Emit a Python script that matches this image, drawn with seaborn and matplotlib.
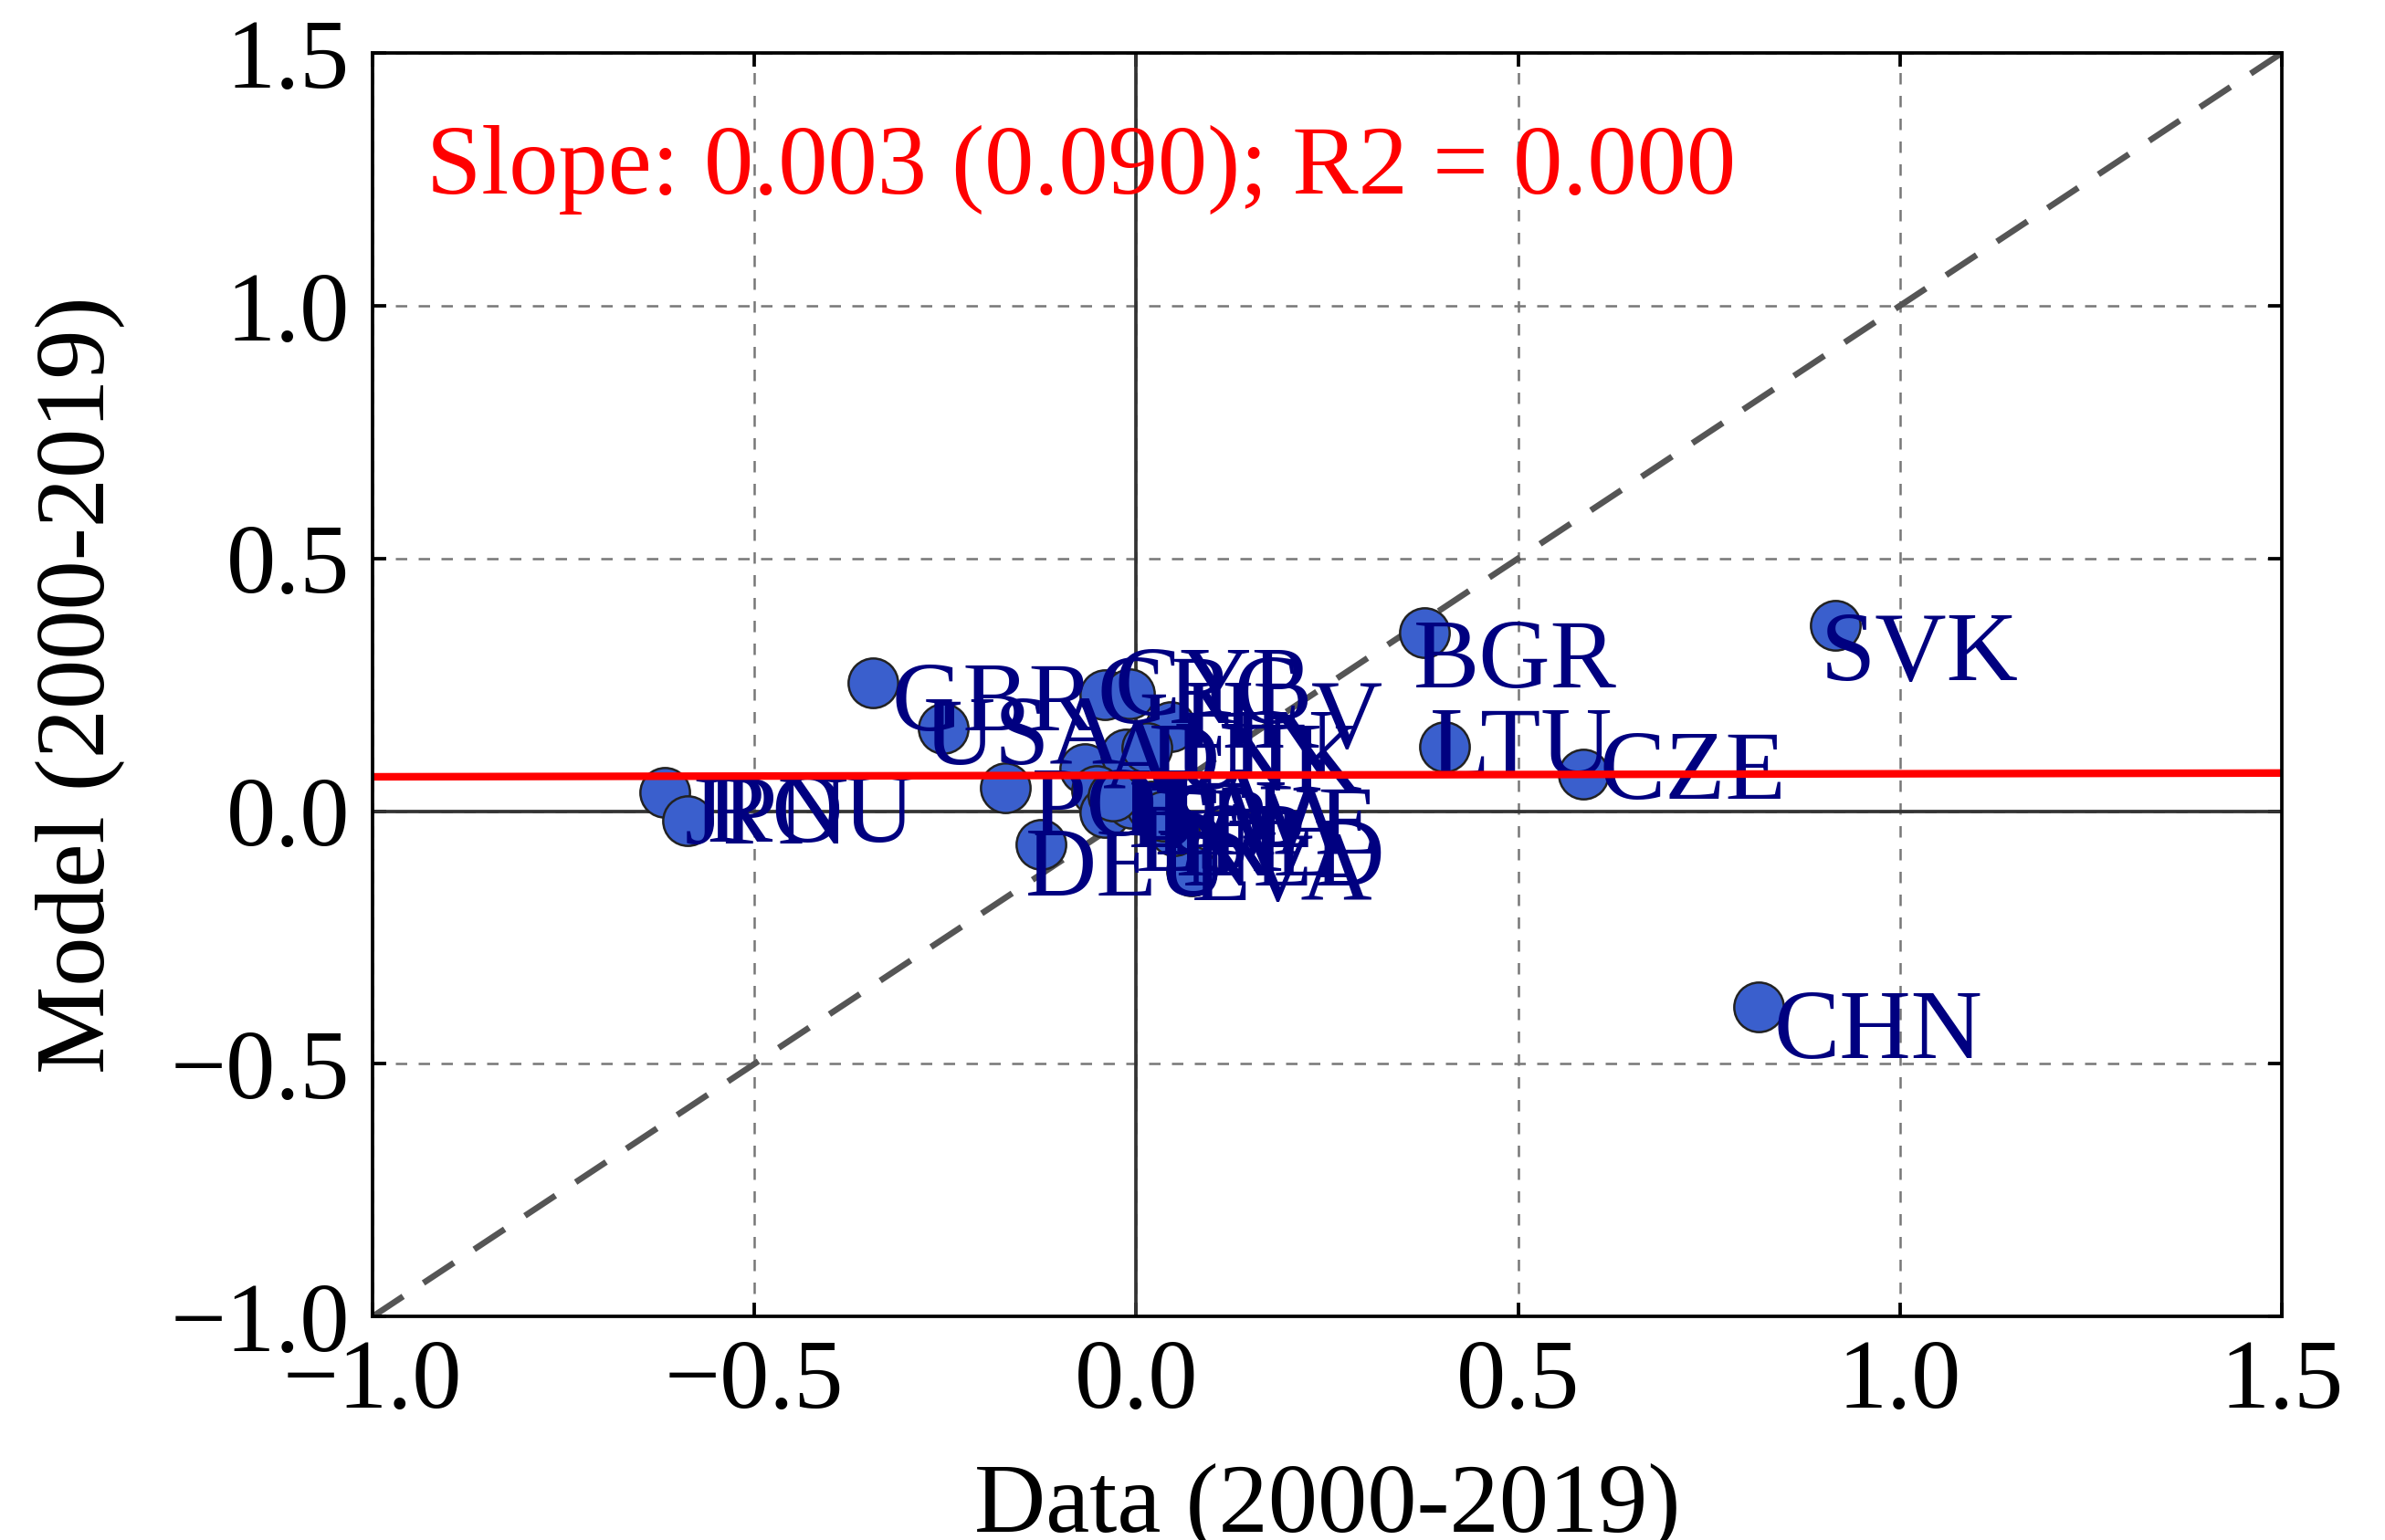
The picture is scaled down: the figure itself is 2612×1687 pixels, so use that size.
import numpy as np
import pandas as pd
import matplotlib
matplotlib.use("Agg")
import matplotlib.pyplot as plt
import seaborn as sns

# ---- data ----
countries = ["GBR", "USA", "JPN", "ROU", "GRC", "CYP", "HRV", "AUT", "DNK", "FIN",
             "POL", "DEU", "LVA", "ITA", "ESP", "FRA", "NLD", "SWE", "BEL", "IRL",
             "BGR", "LTU", "CZE", "SVK", "CHN"]
data_vals = [-0.345, -0.253, -0.617, -0.587, -0.041, -0.009, 0.045, -0.068, -0.014, 0.014,
             -0.172, -0.125, 0.072, -0.052, -0.041, -0.006, 0.050, 0.020, -0.030, 0.035,
             0.378, 0.404, 0.586, 0.916, 0.815]
model_vals = [0.254, 0.164, 0.038, -0.019, 0.231, 0.233, 0.167, 0.085, 0.113, 0.125,
              0.046, -0.066, -0.119, 0.040, -0.002, 0.016, -0.038, 0.010, 0.030, -0.010,
              0.354, 0.128, 0.074, 0.368, -0.387]
# label offsets from the marker (points, right / down)
label_dx = [5, -5, 5, 5, -2, -4, 3, 5, 6, 8,
            7, -4, 0, 6, 8, 6, 2, 5, 4, 3,
            -3, -4, 4, -4, 4]
label_dy = [3, 0, 4, -4, -2, -4, -4, -4, 0, -2,
            3, 4, -2, 2, 6, 4, 5, 3, 4, 6,
            5, -2, -3, 5, 4]

fit_slope = 0.003
fit_intercept = 0.071
annot_text = "Slope: 0.003 (0.090); R2 = 0.000"
tick_vals = [-1.0, -0.5, 0.0, 0.5, 1.0, 1.5]

df = pd.DataFrame({"country": countries, "data": data_vals, "model": model_vals})

sns.set_theme(style="white")
plt.rcParams["font.family"] = ["Liberation Serif", "DejaVu Serif"]
plt.rcParams["axes.unicode_minus"] = True
for key in ["text.color", "axes.labelcolor", "xtick.color", "ytick.color",
            "xtick.labelcolor", "ytick.labelcolor"]:
    plt.rcParams[key] = "black"

DPI = 300
fig = plt.figure(figsize=(2612 / DPI, 1687 / DPI), dpi=DPI)
ax = fig.add_axes([0.15625, 0.1451, 0.8004, 0.8204])

ax.set_xlim(-1, 1.5)
ax.set_ylim(-1, 1.5)
ax.set_xticks(tick_vals)
ax.set_yticks(tick_vals)
ax.set_xticklabels([f"{v:.1f}".replace("-", "\u2212") for v in tick_vals])
ax.set_yticklabels([f"{v:.1f}".replace("-", "\u2212") for v in tick_vals])

ax.grid(True, linestyle=(0, (5, 5)), color="#777777", linewidth=0.6, zorder=0)
ax.axhline(0, color="#333333", linewidth=0.9, zorder=1)
ax.axvline(0, color="#333333", linewidth=0.9, zorder=1)

# 1:1 line
diag = np.array([-1.0, 1.5])
sns.lineplot(x=diag, y=diag, ax=ax, color="#555555", linewidth=1.6,
             linestyle=(0, (6, 4)), zorder=2)

sns.scatterplot(data=df, x="data", y="model", ax=ax, s=170, color="#3A5FCD",
                edgecolor="#222222", linewidth=0.6, zorder=5, legend=False)

for name, x, y, dx, dy in zip(countries, data_vals, model_vals, label_dx, label_dy):
    ax.annotate(name, (x, y), xytext=(dx, -dy - 9.5), textcoords="offset points",
                fontsize=26, color="#000080", ha="left", va="baseline", zorder=6)

fit_x = np.array([-1.0, 1.5])
sns.lineplot(x=fit_x, y=fit_intercept + fit_slope * fit_x, ax=ax, color="red",
             linewidth=2.0, zorder=8)

ax.text(-0.93, 1.27, annot_text, color="red", fontsize=26, ha="left", va="center",
        zorder=9)

ax.set_xlabel("Data (2000-2019)", fontsize=26, labelpad=9, color="black")
ax.set_ylabel("Model (2000-2019)", fontsize=26, labelpad=12, color="black")

ax.tick_params(direction="in", length=3.6, width=0.9, labelsize=26, pad=6,
               top=True, right=True, bottom=True, left=True, color="black",
               labelcolor="black")
for sp in ax.spines.values():
    sp.set_color("black")
    sp.set_linewidth(0.9)
    sp.set_zorder(10)

fig.savefig("out.png", dpi=DPI)
